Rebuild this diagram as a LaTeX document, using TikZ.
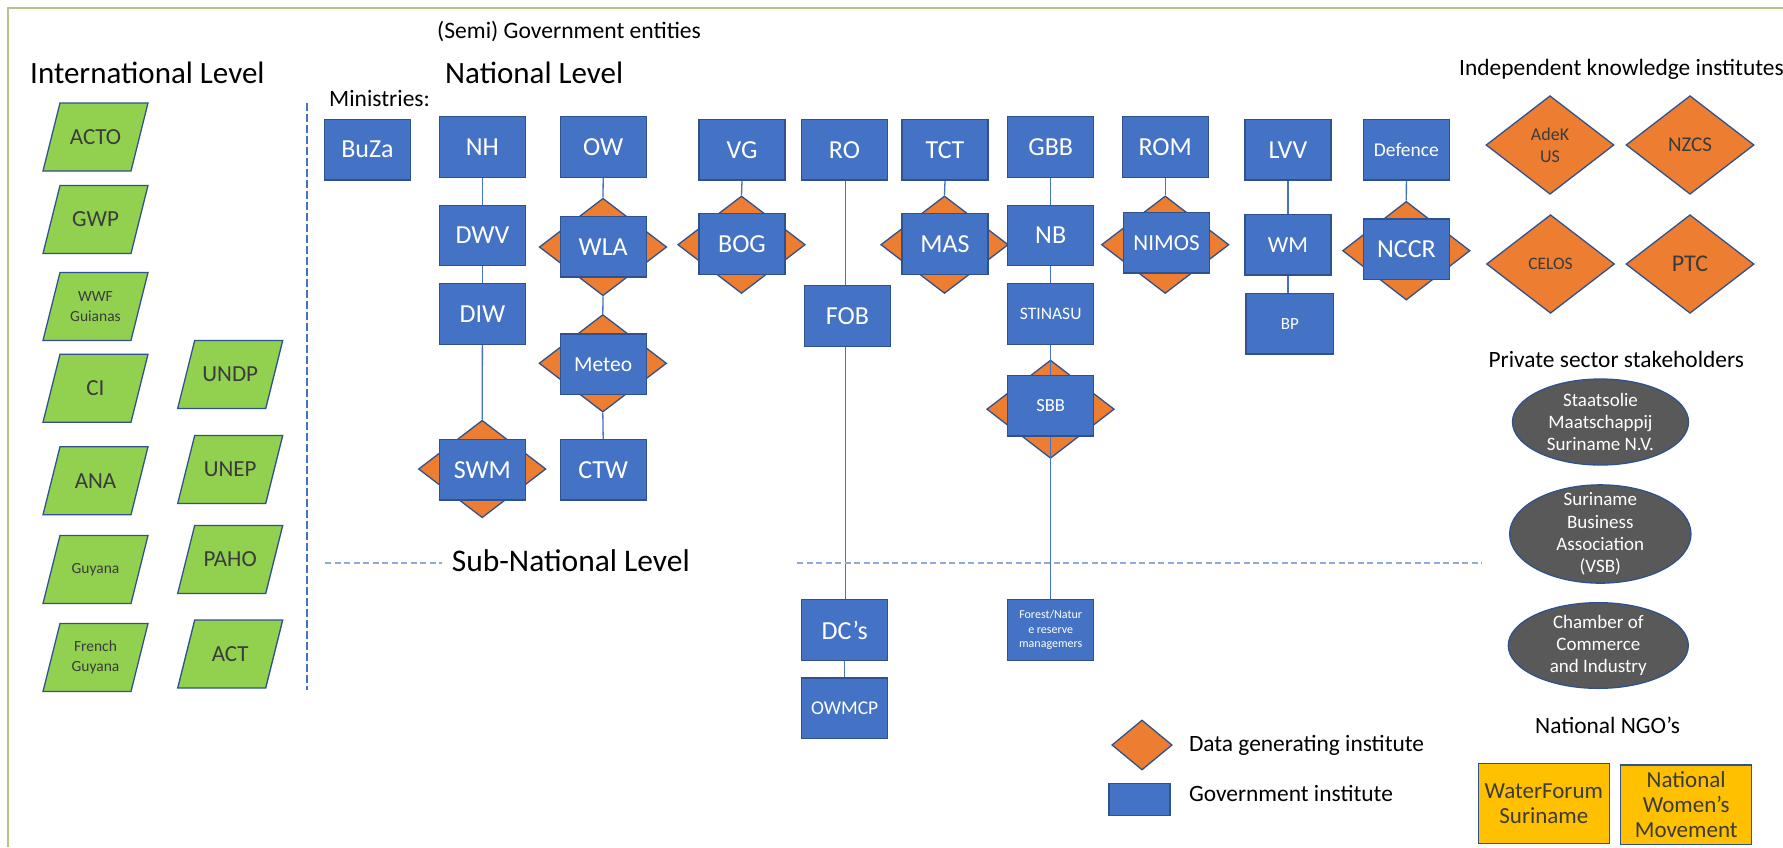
\documentclass[tikz,border=0pt]{standalone}
\usepackage{fontspec}
\setmainfont{Carlito}
\usetikzlibrary{shapes.geometric}
\definecolor{boxblue}{HTML}{4472C4}
\definecolor{edgeblue}{HTML}{2F528F}
\definecolor{dataorange}{HTML}{ED7D31}
\definecolor{intlgreen}{HTML}{92D050}
\definecolor{ngoyellow}{HTML}{FFC000}
\definecolor{privgray}{HTML}{595959}
\definecolor{darktext}{HTML}{3B3B3B}
\definecolor{framecol}{HTML}{BDBD8E}
\definecolor{dashlight}{HTML}{8FAADC}
\newcommand\fs[2]{\fontsize{#1}{#2}\selectfont}
\newcommand\intlbox[5]{%
  \draw[para] (#2-52.5,#3+34) -- (#2-35.5,#3-34) -- (#2+52.5,#3-34) -- (#2+35.5,#3+34) -- cycle;
  \node[#4] (#1) at (#2,#3) {#5};}
\pgfdeclarelayer{back}\pgfdeclarelayer{bg}\pgfdeclarelayer{mid}\pgfsetlayers{back,bg,mid,main}
\begin{document}
\begin{tikzpicture}[x=1pt,y=-1pt,
  gov/.style={rectangle, draw=edgeblue, fill=boxblue, line width=1.3pt, minimum width=86pt, minimum height=60.5pt, inner sep=0pt, text=white, font=\fs{26}{31}},
  dia/.style={diamond, draw=edgeblue, fill=dataorange, line width=1.3pt, inner sep=0pt, minimum width=127.5pt, minimum height=97.5pt},
  kdia/.style={dia, minimum width=128pt, minimum height=98.6pt, text=darktext, align=center},
  link/.style={draw=boxblue, line width=1.3pt},
  para/.style={draw=edgeblue, fill=intlgreen, line width=1.3pt},
  pbig/.style={text=darktext, align=center, font=\fs{23}{27}, inner sep=0pt},
  psmall/.style={text=darktext, align=center, font=\fs{15.5}{20}, inner sep=0pt},
  heading/.style={anchor=base west, font=\fs{31}{37}, inner sep=0pt},
  lbl/.style={anchor=base west, font=\fs{23.4}{28}, inner sep=0pt},
  priv/.style={ellipse, draw=edgeblue, fill=privgray, line width=1.3pt, inner sep=0pt},
  privtext/.style={text=white, align=center, font=\fs{19}{22.3}, inner sep=0pt},
  ngo/.style={rectangle, draw=edgeblue, fill=ngoyellow, line width=1.3pt, minimum width=131pt, minimum height=80pt, inner sep=0pt, align=center, text=darktext, font=\fs{23}{25}}
]
\useasboundingbox (0,0) rectangle (1783,847);
\begin{pgfonlayer}{back}
\fill[white] (0,0) rectangle (1783,847);
\end{pgfonlayer}
% frame
\draw[framecol, line width=2pt] (8,847) -- (8,7.5) -- (1783,7.5);

% headings
\node[anchor=base west, font=\fs{23.6}{28}, inner sep=0pt] (semi) at (437,38.3) {(Semi) Government entities};
\node[heading] (intl) at (30,83.3) {International Level};
\node[heading] (natl) at (445,83.3) {National Level};
\node[anchor=base west, font=\fs{23.5}{28}, inner sep=0pt] (mins) at (329,106) {Ministries:};
\node[lbl] (indep) at (1459,75) {Independent knowledge institutes};
\node[lbl] (privh) at (1488.3,367.7) {Private sector stakeholders};
\node[lbl] (ngoh) at (1535,733.3) {National NGO’s};
\node[heading, font=\fs{31.5}{37}] (subn) at (451.6,571.7) {Sub-National Level};
\node[lbl] (leg1) at (1188.8,751.7) {Data generating institute};
\node[lbl] (leg2) at (1188.8,801.7) {Government institute};

% dashed level separators
\draw[boxblue, line width=1.5pt, dash pattern=on 8pt off 3pt] (307,103) -- (307,690);
\draw[dashlight, line width=2pt, dash pattern=on 6pt off 3.5pt] (325,563) -- (442,563);
\draw[dashlight, line width=2pt, dash pattern=on 6pt off 3.5pt] (797,563) -- (1482,563);

% international level
\intlbox{ACTO}{95.5}{137}{pbig}{ACTO}
\intlbox{GWP}{95.5}{219.5}{pbig}{GWP}
\intlbox{WWF}{95.5}{306.5}{psmall}{WWF\\Guianas}
\intlbox{CI}{95.5}{388.3}{pbig}{CI}
\intlbox{ANA}{95.5}{480.8}{pbig}{ANA}
\intlbox{Guy}{95.5}{569.5}{psmall}{Guyana}
\intlbox{FGuy}{95.5}{657.5}{psmall}{French\\Guyana}
\intlbox{UNDP}{230.2}{374.5}{pbig}{UNDP}
\intlbox{UNEP}{230.2}{469.5}{pbig}{UNEP}
\intlbox{PAHO}{230.2}{559.5}{pbig}{PAHO}
\intlbox{ACT}{230.2}{654}{pbig}{ACT}

% data generating diamonds behind boxes
\begin{pgfonlayer}{bg}
\node[dia] (WLAd) at (603,247) {};
\node[dia] (BOGd) at (741.5,244.7) {};
\node[dia] (MASd) at (944.5,244.7) {};
\node[dia] (NIMOSd) at (1165.2,244.7) {};
\node[dia, minimum height=98.7pt] (NCCRd) at (1406.3,250.7) {};
\node[dia] (Meteod) at (602.8,363.3) {};
\node[dia, minimum height=98.3pt] (SBBd) at (1050.5,409.2) {};
\node[dia] (SWMd) at (482.2,469) {};
\end{pgfonlayer}

% government boxes
\node[gov] (BuZa) at (367.5,149.7) {BuZa};
\node[gov] (NH) at (482.4,147) {NH};
\node[gov] (OW) at (603.2,147) {OW};
\node[gov] (VG) at (742,149.7) {VG};
\node[gov] (RO) at (844.5,149.7) {RO};
\node[gov] (TCT) at (945,149.7) {TCT};
\node[gov] (GBB) at (1050.7,147) {GBB};
\node[gov] (ROM) at (1165.2,147) {ROM};
\node[gov] (LVV) at (1288,149.7) {LVV};
\node[gov, font=\fs{19.5}{23}] (Def) at (1406.4,149.7) {Defence};

\node[gov] (DWV) at (482.4,235.5) {DWV};
\node[gov] (WLA) at (603.2,246.7) {WLA};
\node[gov] (BOG) at (742,244) {BOG};
\node[gov] (MAS) at (945,244) {MAS};
\node[gov] (NB) at (1050.7,235.5) {NB};
\node[gov, font=\fs{23}{27}] (NIMOS) at (1166.5,242.7) {NIMOS};
\node[gov, font=\fs{23}{27}] (WM) at (1288,244.7) {WM};
\node[gov] (NCCR) at (1406.4,249.3) {NCCR};

\node[gov] (DIW) at (482.4,314) {DIW};
\node[gov, font=\fs{21.5}{26}] (Meteo) at (603.2,364.2) {Meteo};
\node[gov] (FOB) at (847.5,316) {FOB};
\node[gov, font=\fs{17.5}{21}] (STINASU) at (1050.7,314) {STINASU};
\node[gov, font=\fs{17}{20}, minimum width=87.7pt] (BP) at (1289.9,323.8) {BP};
\node[gov, font=\fs{18.5}{22}] (SBB) at (1050.7,405.8) {SBB};

\node[gov] (SWM) at (482.4,469.7) {SWM};
\node[gov] (CTW) at (603.2,469.7) {CTW};

\node[gov] (DCs) at (844.7,630) {DC’s};
\node[gov, font=\fs{19.5}{23}] (OWMCP) at (844.7,708.2) {OWMCP};
\node[gov, font=\fs{12}{14.3}, align=center] (Forest) at (1050.7,630) {Forest/Natur\\e reserve\\managemers};

% connectors
\begin{pgfonlayer}{mid}
\draw[link] (NH.south) -- (DWV.north);
\draw[link] (DWV.south) -- (DIW.north);
\draw[link] (DIW.south) -- (SWMd.north);
\draw[link] (OW.south) -- (WLAd.north);
\draw[link] (WLAd.south) -- (Meteod.north);
\draw[link] (Meteod.south) -- (CTW.north);
\draw[link] (VG.south) -- (BOGd.north);
\draw[link] ([xshift=1pt]RO.south) -- ([xshift=1pt]RO.south |- FOB.north);
\draw[link] ([xshift=1pt]RO.south |- FOB.south) -- ([xshift=1pt]RO.south |- DCs.north);
\draw[link] (DCs.south) -- (OWMCP.north);
\draw[link] (TCT.south) -- (MASd.north);
\draw[link] (GBB.south) -- (NB.north);
\draw[link] (NB.south) -- (STINASU.north);
\draw[link] (STINASU.south) -- (SBB.north);
\draw[link] (SBB.south) -- (Forest.north);
\draw[link] (ROM.south) -- (NIMOSd.north);
\draw[link] (LVV.south) -- (WM.north);
\draw[link] (WM.south) -- (WM.south |- BP.north);
\draw[link] (Def.south) -- (NCCRd.north);
\end{pgfonlayer}

% independent knowledge institutes
\node[kdia, font=\fs{18}{21.7}] (AdeK) at (1550,145) {AdeK\\US};
\node[kdia, font=\fs{21}{25}] (NZCS) at (1690,145) {NZCS};
\node[kdia, font=\fs{17.5}{21}] (CELOS) at (1550.5,264) {CELOS};
\node[kdia, font=\fs{24}{28}] (PTC) at (1690,264) {PTC};

% private sector
\node[priv, minimum width=176pt, minimum height=86pt] (Staat) at (1600.5,422) {};
\node[privtext] (StaatT) at (Staat.center) {Staatsolie\\Maatschappij\\Suriname N.V.};
\node[priv, minimum width=181.3pt, minimum height=98.3pt] (VSB) at (1600.3,534) {};
\node[privtext] (VSBT) at (VSB.center) {Suriname\\Business\\Association\\(VSB)};
\node[priv, minimum width=180pt, minimum height=85.7pt] (CoC) at (1598.3,645.5) {};
\node[privtext] (CoCT) at (CoC.center) {Chamber of\\Commerce\\and Industry};

% NGOs
\node[ngo] (WF) at (1543.8,803.3) {WaterForum\\Suriname};
\node[ngo, minimum height=79.3pt] (NWM) at (1686.2,804.7) {National\\Women’s\\Movement};

% legend
\node[dia, minimum width=60.3pt, minimum height=50pt] (legd) at (1142,745) {};
\node[gov, minimum width=61pt, minimum height=32pt] (legb) at (1139.5,799.3) {};
\end{tikzpicture}
\end{document}
